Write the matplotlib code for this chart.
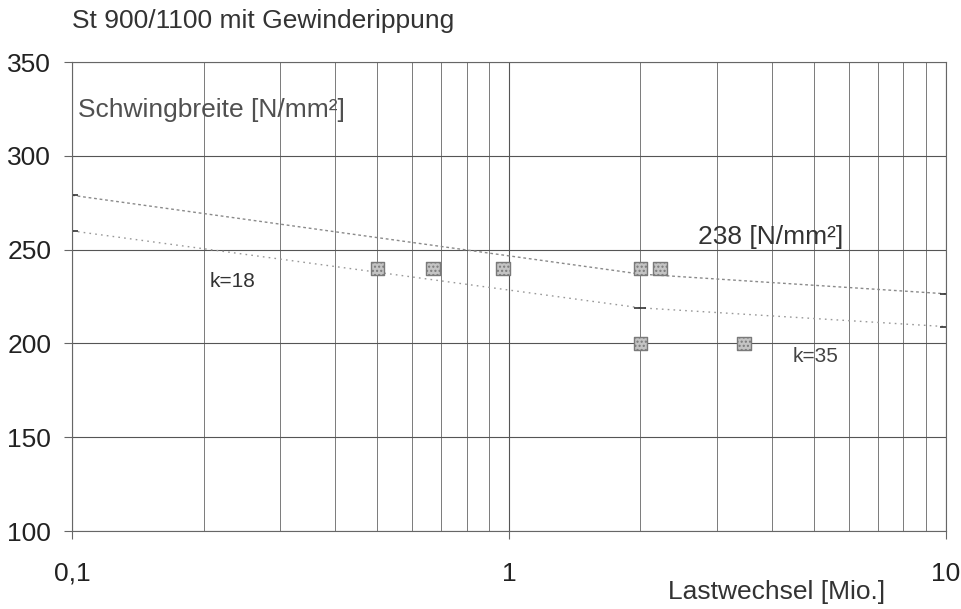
import numpy as np
import matplotlib.pyplot as plt
from matplotlib.ticker import FixedLocator, FixedFormatter, LogLocator, NullFormatter

plt.rcParams['font.family'] = ['Liberation Sans', 'DejaVu Sans']

# Versuchsergebnisse (Lastwechsel in Mio., Schwingbreite in N/mm²)
test_n = [0.5, 0.67, 0.97, 2.0, 2.22, 2.0, 3.45]
test_s = [240, 240, 240, 240, 240, 200, 200]

# Wöhlerlinien mit Knick bei 2 Mio.
line_n = [0.1, 2.0, 10.0]
upper_s = [279, 237, 226.5]
lower_s = [260, 219, 209]

x_ticks = [0.1, 1, 10]
x_labels = ["0,1", "1", "10"]
y_ticks = [100, 150, 200, 250, 300, 350]

fig = plt.figure(figsize=(9.61, 6.09), dpi=100)
ax = fig.add_axes([0.075, 0.128, 0.909, 0.77])

ax.set_xscale('log')
ax.set_xlim(0.1, 10)
ax.set_ylim(100, 350)

ax.xaxis.set_major_locator(FixedLocator(x_ticks))
ax.xaxis.set_major_formatter(FixedFormatter(x_labels))
ax.xaxis.set_minor_locator(LogLocator(base=10, subs=np.arange(2, 10)))
ax.xaxis.set_minor_formatter(NullFormatter())
ax.set_yticks(y_ticks)

ax.grid(True, which='major', axis='x', color='#555555', lw=0.8)
ax.grid(True, which='minor', axis='x', color='#7a7a7a', lw=0.7)
ax.grid(True, which='major', axis='y', color='#555555', lw=0.8)
ax.tick_params(axis='both', which='major', labelsize=19, length=6,
               color='#666666', labelcolor='#222222')
ax.tick_params(axis='x', which='major', pad=16)
ax.tick_params(axis='y', which='major', pad=9)
ax.tick_params(axis='x', which='minor', length=0)
for sp in ax.spines.values():
    sp.set_color('#666666')
    sp.set_linewidth(0.8)

ax.plot(line_n, upper_s, color='#8a8a8a', lw=1, ls=(0, (2, 2)),
        marker='_', ms=8, mec='#333333', mew=1.2)
ax.plot(line_n, lower_s, color='#999999', lw=1, ls=(0, (1.2, 3)),
        marker='_', ms=8, mec='#333333', mew=1.2)

ax.scatter(test_n, test_s, marker='s', s=95, facecolor='#c4c4c4',
           edgecolor='#7a7a7a', linewidth=1, zorder=5, hatch='....')

# Beschriftungen
ax.text(0.103, 324.5, "Schwingbreite [N/mm²]", fontsize=19, color='#505050',
        va='center', ha='left')
ax.text(2.71, 257, "238 [N/mm²]", fontsize=19, color='#333333', va='center')
ax.text(0.207, 233, "k=18", fontsize=15, color='#333333', va='center')
ax.text(4.47, 193, "k=35", fontsize=15, color='#444444', va='center')

fig.text(0.075, 0.965, "St 900/1100 mit Gewinderippung", fontsize=19,
         color='#333333', va='center', ha='left')
fig.text(0.808, 0.028, "Lastwechsel [Mio.]", fontsize=19, color='#333333',
         va='center', ha='center')

fig.savefig('out.png', dpi=100, facecolor='white')
